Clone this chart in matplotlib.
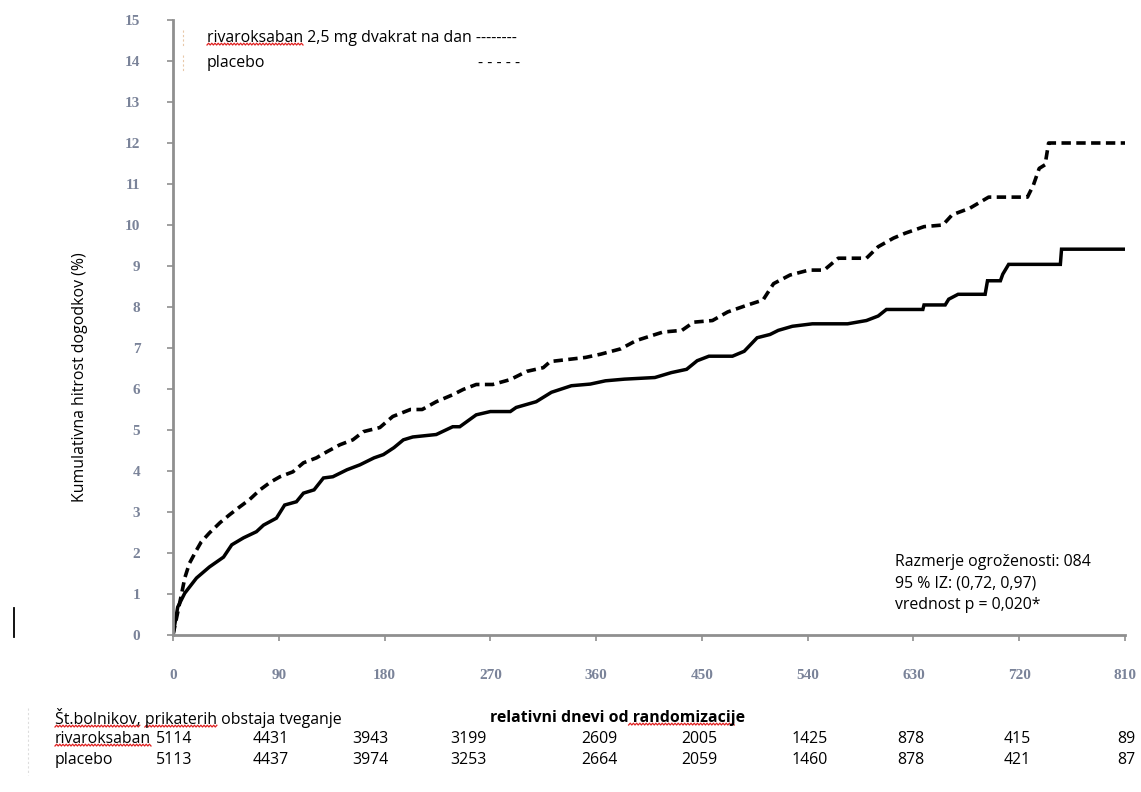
import matplotlib
matplotlib.use("Agg")
import matplotlib.pyplot as plt
import numpy as np

# --- data --------------------------------------------------------
riva_days = [0, 4, 10, 20, 31, 43, 50, 60, 71, 77, 88, 95, 105, 111, 120, 128, 136, 148, 159, 171,
             179, 188, 196, 204, 224, 238, 244, 258, 270, 287, 292, 309, 322, 339, 355, 368, 384, 410,
             424, 437, 446, 456, 476, 486, 497, 508, 515, 527, 544, 574, 590, 600, 607, 638, 639, 657,
             660, 668, 691, 693, 704, 706, 711, 755, 756, 810]
riva_rate = [0, 0.68, 1.02, 1.39, 1.66, 1.9, 2.2, 2.37, 2.52, 2.68, 2.85, 3.17, 3.25, 3.46, 3.54, 3.83,
             3.86, 4.03, 4.15, 4.32, 4.4, 4.57, 4.76, 4.83, 4.89, 5.08, 5.08, 5.37, 5.45, 5.45, 5.55,
             5.69, 5.92, 6.08, 6.12, 6.2, 6.24, 6.28, 6.4, 6.48, 6.69, 6.8, 6.8, 6.92, 7.25, 7.33, 7.43,
             7.53, 7.59, 7.59, 7.67, 7.78, 7.94, 7.94, 8.05, 8.05, 8.19, 8.31, 8.31, 8.64, 8.64, 8.8,
             9.04, 9.04, 9.41, 9.41]

plac_days = [0, 8, 10, 14, 20, 24, 31, 40, 48, 57, 65, 74, 83, 91, 102, 111, 122, 131, 142, 153,
             162, 176, 187, 202, 212, 224, 238, 247, 258, 272, 287, 301, 315, 321, 351, 364, 381, 394,
             417, 433, 443, 459, 472, 488, 502, 511, 525, 541, 554, 566, 590, 600, 613, 623, 639, 655,
             663, 678, 694, 727, 732, 737, 742, 745, 810]
plac_rate = [0, 1.1, 1.39, 1.75, 2.07, 2.27, 2.49, 2.74, 2.93, 3.13, 3.3, 3.54, 3.73, 3.86, 3.98, 4.2,
             4.32, 4.47, 4.64, 4.76, 4.96, 5.06, 5.33, 5.5, 5.5, 5.69, 5.86, 5.99, 6.11, 6.11, 6.23,
             6.43, 6.52, 6.67, 6.77, 6.85, 6.98, 7.18, 7.39, 7.43, 7.63, 7.67, 7.88, 8.04, 8.17, 8.57,
             8.78, 8.9, 8.9, 9.19, 9.19, 9.47, 9.68, 9.8, 9.96, 10.0, 10.25, 10.41, 10.68, 10.68,
             10.97, 11.38, 11.47, 12.0, 12.0]

# patients at risk
risk_days = [0, 90, 180, 270, 360, 450, 540, 630, 720, 810]
risk_riva = [5114, 4431, 3943, 3199, 2609, 2005, 1425, 878, 415, 89]
risk_plac = [5113, 4437, 3974, 3253, 2664, 2059, 1460, 878, 421, 87]
# where the numbers sit (in days), a bit left of the ticks at first
risk_pos = [1, 83, 168, 251, 363, 448, 542, 628, 718, 811]

W, H = 1141, 792


def fx(x):
    return x / W


def fy(y):
    return 1 - y / H


fig = plt.figure(figsize=(W / 100, H / 100), dpi=100)
ax = fig.add_axes([fx(173), fy(635), fx(1125) - fx(173), fy(20) - fy(635)])

ax.plot(riva_days, riva_rate, color='black', lw=2.5, solid_joinstyle='miter')
ax.plot(plac_days, plac_rate, color='black', lw=2.6, dashes=(2.6, 1.5))

ax.set_xlim(0, 810)
ax.set_ylim(0, 15)
ax.set_xticks(np.arange(0, 811, 90))
ax.set_yticks(np.arange(0, 16, 1))

for s in ['top', 'right']:
    ax.spines[s].set_visible(False)
for s in ['left', 'bottom']:
    ax.spines[s].set_color('#8f8f8f')
    ax.spines[s].set_linewidth(2.0)

tick_col = '#7a8399'
ax.tick_params(axis='both', colors='#8f8f8f', width=1.2, length=4.5, labelcolor=tick_col)
ax.tick_params(axis='x', pad=20)
ax.tick_params(axis='y', pad=19)
for lab in ax.get_xticklabels() + ax.get_yticklabels():
    lab.set_fontfamily('Liberation Serif')
    lab.set_fontsize(11)
    lab.set_fontweight('bold')

sans = 'Open Sans'
fs = 11.4
fig.text(fx(80), fy(377), 'Kumulativna hitrost dogodkov (%)', rotation=90,
         ha='center', va='center', fontsize=fs, family=sans)

# legend as in the original, text with dashes
t_leg1 = fig.text(fx(207), fy(38), 'rivaroksaban 2,5 mg dvakrat na dan --------',
                  ha='left', va='center', fontsize=fs, family=sans)
t_leg2 = fig.text(fx(207), fy(63), 'placebo', ha='left', va='center', fontsize=fs, family=sans)
fig.text(fx(478), fy(63), '- - - - -', ha='left', va='center', fontsize=fs, family=sans)

# hazard ratio box
fig.text(fx(895), fy(562), 'Razmerje ogroženosti: 084', ha='left', va='center', fontsize=fs, family=sans)
fig.text(fx(895), fy(584), '95 % IZ: (0,72, 0,97)', ha='left', va='center', fontsize=fs, family=sans)
fig.text(fx(895), fy(605), 'vrednost p = 0,020*', ha='left', va='center', fontsize=fs, family=sans)

# table of patients at risk
t_head = fig.text(fx(55), fy(718), 'Št.bolnikov, prikaterih obstaja tveganje',
                  ha='left', va='center', fontsize=fs, family=sans)
t_head2 = fig.text(fx(490), fy(718), 'relativni dnevi od randomizacije',
                   ha='left', va='center', fontsize=fs, family=sans, fontweight='bold')
t_row1 = fig.text(fx(55), fy(739), 'rivaroksaban', ha='left', va='center', fontsize=fs, family=sans)
fig.text(fx(55), fy(760), 'placebo', ha='left', va='center', fontsize=fs, family=sans)

for d, a, b in zip(risk_pos, risk_riva, risk_plac):
    xf = fx(173 + d * (1125 - 173) / 810)
    fig.text(xf, fy(739), str(a), ha='center', va='center', fontsize=fs, family=sans)
    fig.text(xf, fy(760), str(b), ha='center', va='center', fontsize=fs, family=sans)

# red spell-check squiggles under some words
fig.canvas.draw()
rend = fig.canvas.get_renderer()


def squiggle(t, start, end):
    s = t.get_text()
    x0, y0 = t.get_position()
    def width(sub):
        if not sub:
            return 0
        tmp = fig.text(x0, y0, sub, fontsize=t.get_fontsize(), family=t.get_fontfamily(),
                       fontweight=t.get_fontweight())
        w = tmp.get_window_extent(rend).width
        tmp.remove()
        return w
    bb = t.get_window_extent(rend)
    xa = bb.x0 + width(s[:start])
    xb = bb.x0 + width(s[:end])
    ybase = bb.y0 + 1
    xs = np.arange(xa, xb, 1.6)
    ys = ybase + np.where(np.arange(len(xs)) % 2 == 0, 0, 1.8)
    fig.add_artist(plt.Line2D(xs / W, ys / H, color='#e02020', lw=0.9, transform=fig.transFigure))


squiggle(t_leg1, 0, 12)
squiggle(t_head, 0, 12)
squiggle(t_head, 13, 23)
squiggle(t_head2, 18, 31)
squiggle(t_row1, 0, 12)

# stray marks of the scanned original
fig.add_artist(plt.Line2D([fx(14), fx(14)], [fy(608), fy(637)], color='black', lw=1.3))
for yy in (38, 63):
    fig.add_artist(plt.Line2D([fx(183), fx(183)], [fy(yy - 8), fy(yy + 8)], color='#e8c8a8',
                              lw=0.8, ls=(0, (2, 2))))
fig.add_artist(plt.Line2D([fx(28), fx(28)], [fy(708), fy(775)], color='#dddddd', lw=0.8, ls=(0, (2, 2))))

fig.savefig('out.png', dpi=100)
